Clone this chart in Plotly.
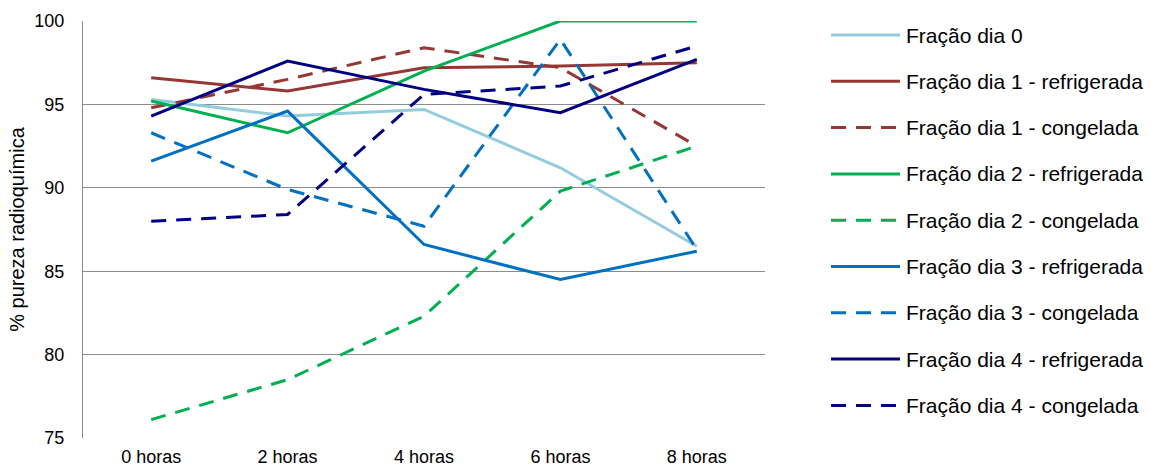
import plotly.graph_objects as go

# Tempo de armazenamento
horas = ["0 horas", "2 horas", "4 horas", "6 horas", "8 horas"]

# Pureza radioquímica (%) por fração
dia0 = [95.3, 94.3, 94.7, 91.2, 86.5]
dia1_refrig = [96.6, 95.8, 97.2, 97.3, 97.5]
dia1_cong = [94.8, 96.5, 98.4, 97.2, 92.5]
dia2_refrig = [95.2, 93.3, 97.0, 100.0, 100.0]
dia2_cong = [76.1, 78.5, 82.3, 89.8, 92.5]
dia3_refrig = [91.6, 94.6, 86.6, 84.5, 86.2]
dia3_cong = [93.3, 89.9, 87.7, 98.9, 86.3]
dia4_refrig = [94.3, 97.6, 95.9, 94.5, 97.7]
dia4_cong = [88.0, 88.4, 95.6, 96.1, 98.5]

y_ticks = [75, 80, 85, 90, 95, 100]

series = [
    ("Fração dia 0", dia0, "#93CDDD", "solid"),
    ("Fração dia 1 - refrigerada", dia1_refrig, "#953735", "solid"),
    ("Fração dia 1 - congelada", dia1_cong, "#953735", "dash"),
    ("Fração dia 2 - refrigerada", dia2_refrig, "#00B050", "solid"),
    ("Fração dia 2 - congelada", dia2_cong, "#00B050", "dash"),
    ("Fração dia 3 - refrigerada", dia3_refrig, "#0070C0", "solid"),
    ("Fração dia 3 - congelada", dia3_cong, "#0070C0", "dash"),
    ("Fração dia 4 - refrigerada", dia4_refrig, "#000080", "solid"),
    ("Fração dia 4 - congelada", dia4_cong, "#000080", "dash"),
]

DASH = "15px,10px"
FONT = "Liberation Sans, Arial, sans-serif"

W, H = 1150, 468
left, right, top, bottom = 83, 765, 21, 438

fig = go.Figure()
for name, vals, color, style in series:
    fig.add_trace(go.Scatter(
        x=horas, y=vals, name=name, mode="lines",
        line=dict(color=color, width=3, dash=DASH if style == "dash" else "solid"),
        showlegend=False,
    ))

# Legenda desenhada à direita da área do gráfico
ph = bottom - top
pw = right - left
def px_to_paper_x(px):
    return (px - left) / pw
def px_to_paper_y(py):
    return (bottom - py) / ph

shapes = []
annotations = []
row0, step = 35, 46.3
for i, (name, vals, color, style) in enumerate(series):
    yy = px_to_paper_y(row0 + i * step)
    shapes.append(dict(
        type="line", xref="paper", yref="paper",
        x0=px_to_paper_x(831), x1=px_to_paper_x(900), y0=yy, y1=yy,
        line=dict(color=color, width=3, dash=DASH if style == "dash" else "solid"),
    ))
    annotations.append(dict(
        xref="paper", yref="paper", x=px_to_paper_x(904), y=yy,
        text=name, showarrow=False, xanchor="left", yanchor="middle",
        font=dict(family=FONT, size=21, color="#000000"),
    ))

fig.update_layout(
    width=W, height=H,
    margin=dict(l=left, r=W - right, t=top, b=H - bottom, autoexpand=False),
    paper_bgcolor="white", plot_bgcolor="white",
    font=dict(family=FONT, size=18, color="#000000"),
    shapes=shapes, annotations=annotations,
    showlegend=False,
)
fig.update_xaxes(
    type="category", range=[-0.5, 4.5],
    showgrid=False, zeroline=False, showline=False, ticks="",
    ticklabelstandoff=6,
    tickfont=dict(family=FONT, size=18, color="#000000"),
)
fig.update_yaxes(
    range=[75, 100], tickvals=y_ticks,
    showgrid=True, gridcolor="#8C8C8C", gridwidth=1.3,
    zeroline=False, showline=True, linecolor="#8C8C8C", linewidth=1.3,
    ticks="", ticklabelstandoff=14,
    tickfont=dict(family=FONT, size=18, color="#000000"),
    title=dict(text="% pureza radioquímica", standoff=4,
               font=dict(family=FONT, size=20, color="#000000")),
)

fig.write_html("out.html")
